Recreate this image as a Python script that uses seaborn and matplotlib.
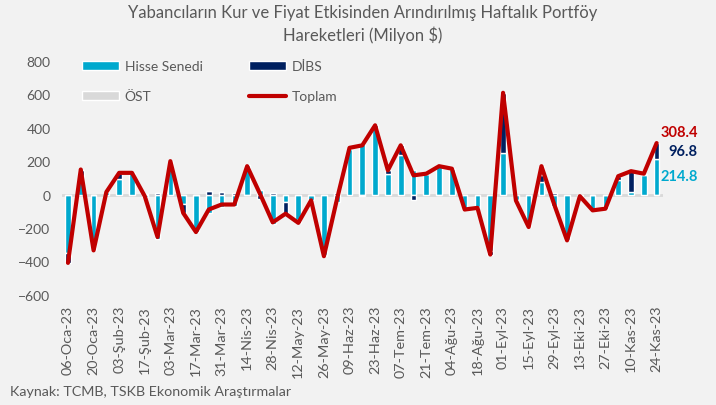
import numpy as np
import matplotlib
matplotlib.use("Agg")
import matplotlib.pyplot as plt
import seaborn as sns
from matplotlib.patches import Patch
from matplotlib.lines import Line2D

# weekly data, Milyon $
weeks = ['06-Oca-23', '13-Oca-23', '20-Oca-23', '27-Oca-23',
         '03-Şub-23', '10-Şub-23', '17-Şub-23', '24-Şub-23',
         '03-Mar-23', '10-Mar-23', '17-Mar-23', '24-Mar-23', '31-Mar-23',
         '07-Nis-23', '14-Nis-23', '21-Nis-23', '28-Nis-23',
         '05-May-23', '12-May-23', '19-May-23', '26-May-23',
         '02-Haz-23', '09-Haz-23', '16-Haz-23', '23-Haz-23', '30-Haz-23',
         '07-Tem-23', '14-Tem-23', '21-Tem-23', '28-Tem-23',
         '04-Ağu-23', '11-Ağu-23', '18-Ağu-23', '25-Ağu-23',
         '01-Eyl-23', '08-Eyl-23', '15-Eyl-23', '22-Eyl-23', '29-Eyl-23',
         '06-Eki-23', '13-Eki-23', '20-Eki-23', '27-Eki-23',
         '03-Kas-23', '10-Kas-23', '17-Kas-23', '24-Kas-23']
tick_labels = weeks[::2]

hisse = [-350, 110, -335, 15, 95, 130, -15, -265, 195, -55,
         -225, -110, -75, -70, 175, 30, -175, -45, -150, -35,
         -360, -45, 270, 305, 400, 125, 235, 145, 125, 175,
         155, -85, -75, -340, 250, -30, -190, 75, -70, -270,
         -10, -95, -85, 85, 15, 115, 214.8]
dibs = [-60, 40, 0, 0, 35, 0, 5, 10, 5, -55,
        0, 20, 15, 10, -5, -25, 8, -70, -20, 0,
        -10, 10, 10, -10, 15, 20, 60, -30, 0, -5,
        0, -5, -5, -20, 360, -5, -5, 40, 10, -5,
        0, 0, 0, 25, 125, 10, 96.8]
ost = [0, 0, 0, 0, 0, 0, 0, 0, 0, 0,
       0, 0, 0, 0, 0, 0, 0, 0, 0, 0,
       0, 0, 0, 0, 0, 0, 0, 0, 0, 0,
       0, 0, 0, 0, 0, 0, 0, 55, 0, 0,
       0, 0, 0, 0, 0, 0, -3.2]
toplam = [-410, 150, -335, 15, 130, 130, -10, -255, 200, -110,
          -225, -90, -60, -60, 170, 5, -167, -115, -170, -35,
          -370, -35, 280, 295, 415, 145, 295, 115, 125, 170,
          155, -90, -80, -360, 610, -35, -195, 170, -60, -275,
          -10, -95, -85, 110, 140, 125, 308.4]

c_hisse = '#00a9ce'
c_dibs = '#002060'
c_ost = '#d9d9d9'
c_top = '#c00000'
grey = '#595959'
bg = '#f2f2f2'

sns.set_theme(style="white")
plt.rcParams['font.family'] = ['Lato', 'DejaVu Sans']

fig = plt.figure(figsize=(7.16, 4.06), dpi=100, facecolor=bg)
ax = fig.add_axes([0.086, 0.272, 0.840, 0.575])
ax.set_facecolor(bg)

ax.axhline(0, color='#d9d9d9', lw=2, zorder=0)

# stacked bars, positives up and negatives down (like Excel)
n = len(weeks)
pos_base = np.zeros(n)
neg_base = np.zeros(n)
for vals, col in [(hisse, c_hisse), (dibs, c_dibs), (ost, c_ost)]:
    v = np.array(vals, dtype=float)
    bottom = np.where(v >= 0, pos_base, neg_base)
    sns.barplot(x=weeks, y=v, bottom=bottom, color=col, saturation=1,
                width=0.44, errorbar=None, ax=ax, zorder=2)
    pos_base += np.where(v > 0, v, 0)
    neg_base += np.where(v < 0, v, 0)

sns.lineplot(x=np.arange(n), y=toplam, color=c_top, lw=3.0, ax=ax,
             zorder=3, solid_joinstyle='round', solid_capstyle='round')

ax.set_xlim(-0.5, n - 0.5)
ax.set_ylim(-600, 800)
ax.set_yticks(range(-600, 801, 200))
ax.set_xticks(range(0, n, 2))
ax.set_xticklabels(tick_labels, rotation=90)
ax.set_xlabel('')
ax.set_ylabel('')
ax.tick_params(axis='both', length=0, labelcolor=grey, labelsize=10)
ax.tick_params(axis='x', labelsize=10.4, pad=7.5)
ax.tick_params(axis='y', pad=8)
for s in ax.spines.values():
    s.set_visible(False)

# labels for the last week
ax.annotate(f"{toplam[-1]}", xy=(n - 1, toplam[-1]), xytext=(41, 11),
            textcoords='offset pixels', ha='right', va='center',
            color=c_top, fontsize=10.5, fontweight='bold', annotation_clip=False)
ax.annotate(f"{dibs[-1]}", xy=(n - 1, toplam[-1]), xytext=(41, -8),
            textcoords='offset pixels', ha='right', va='center',
            color=c_dibs, fontsize=10.5, fontweight='bold', annotation_clip=False)
ax.annotate(f"{hisse[-1]}", xy=(n - 1, hisse[-1]), xytext=(41, -17),
            textcoords='offset pixels', ha='right', va='center',
            color=c_hisse, fontsize=10.5, fontweight='bold', annotation_clip=False)

handles = [Patch(facecolor=c_hisse), Patch(facecolor=c_ost),
           Patch(facecolor=c_dibs), Line2D([0], [0], color=c_top, lw=3.0)]
labels = ['Hisse Senedi', 'ÖST', 'DİBS', 'Toplam']
leg = ax.legend(handles, labels, ncol=2, loc='upper left',
                bbox_to_anchor=(0.114, 0.849), bbox_transform=fig.transFigure,
                frameon=False, fontsize=10, handlelength=2.7, handleheight=0.55,
                handletextpad=0.4, columnspacing=3.3, labelspacing=1.3,
                borderpad=0, borderaxespad=0)
for t in leg.get_texts():
    t.set_color(grey)

fig.text(0.506, 0.988, "Yabancıların Kur ve Fiyat Etkisinden Arındırılmış Haftalık Portföy\nHareketleri (Milyon $)",
         ha='center', va='top', color=grey, fontsize=12, linespacing=1.4)
fig.text(0.014, 1 - 392 / 406, "Kaynak: TCMB, TSKB Ekonomik Araştırmalar",
         ha='left', va='center', color=grey, fontsize=10.3)

fig.savefig('out.png', dpi=100, facecolor=bg)
